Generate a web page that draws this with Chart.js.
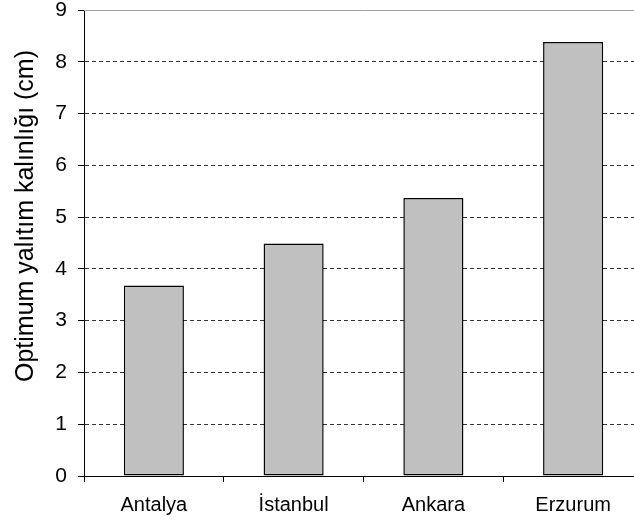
<!DOCTYPE html>
<html>
<head>
<meta charset="utf-8">
<script src="https://cdn.jsdelivr.net/npm/chart.js@4/dist/chart.umd.min.js"></script>
<style>
  html, body { margin: 0; padding: 0; background: #fff; overflow: hidden; }
  #wrap { width: 634px; height: 525px; overflow: hidden; position: relative; }
  canvas { position: absolute; left: 0; top: 0; }
</style>
</head>
<body>
<div id="wrap"><canvas id="c" width="660" height="525"></canvas></div>
<script>
// Optimum insulation thickness per city
const cities = ['Antalya', 'İstanbul', 'Ankara', 'Erzurum'];
const thickness = [3.68, 4.49, 5.37, 8.38];
const yTicks = [0, 1, 2, 3, 4, 5, 6, 7, 8, 9];
const yTitle = 'Optimum yalıtım kalınlığı (cm)';

const FONT = "'Liberation Sans', Arial, sans-serif";

// solid grey frame line along the top of the plot, plus the rotated axis title
const framePlugin = {
  id: 'frame',
  beforeDatasetsDraw(chart) {
    const { ctx, chartArea, scales } = chart;
    const y = Math.round(scales.y.getPixelForValue(yTicks[yTicks.length - 1])) + 0.5;
    ctx.save();
    ctx.strokeStyle = '#a0a0a0';
    ctx.lineWidth = 1;
    ctx.beginPath();
    ctx.moveTo(chartArea.left, y);
    ctx.lineTo(chartArea.right, y);
    ctx.stroke();
    ctx.restore();
  },
  afterDraw(chart) {
    const { ctx } = chart;
    ctx.save();
    ctx.translate(33, 216);
    ctx.rotate(-Math.PI / 2);
    ctx.font = '25px ' + FONT;
    ctx.fillStyle = '#000';
    ctx.textAlign = 'center';
    ctx.textBaseline = 'alphabetic';
    ctx.fillText(yTitle, 0, 0);
    ctx.restore();
  }
};

new Chart(document.getElementById('c'), {
  type: 'bar',
  data: {
    labels: cities,
    datasets: [{
      data: thickness,
      backgroundColor: '#c0c0c0',
      borderColor: '#000',
      borderWidth: 1.5,
      borderSkipped: false,
      categoryPercentage: 0.43,
      barPercentage: 1
    }]
  },
  options: {
    responsive: false,
    animation: false,
    devicePixelRatio: 1,
    layout: { padding: { top: 10, right: 17, bottom: 0, left: 0 } },
    plugins: { legend: { display: false }, tooltip: { enabled: false } },
    scales: {
      x: {
        offset: true,
        grid: {
          offset: true,
          drawOnChartArea: false,
          drawTicks: true,
          tickLength: 6,
          tickColor: '#000',
          tickWidth: 1
        },
        border: { display: true, color: '#000', width: 1 },
        ticks: {
          color: '#000',
          padding: 11,
          font: { family: FONT, size: 20 },
          maxRotation: 0
        },
        afterFit(s) { s.height = 49; s.paddingLeft = 0; s.paddingRight = 0; }
      },
      y: {
        min: yTicks[0],
        max: yTicks[yTicks.length - 1],
        afterBuildTicks(s) { s.ticks = yTicks.map(v => ({ value: v })); },
        grid: {
          color: ctx => (ctx.tick && (ctx.tick.value === 0 || ctx.tick.value === 9)) ? 'rgba(0,0,0,0)' : '#333',
          lineWidth: 1,
          drawTicks: true,
          tickLength: 6,
          tickColor: '#000',
          tickWidth: 1,
          tickBorderDash: []
        },
        border: { display: true, color: '#000', width: 1, dash: [4, 3] },
        ticks: {
          color: '#000',
          padding: 11,
          font: { family: FONT, size: 21 },
          callback: v => String(v)
        },
        title: { display: false, text: yTitle },
        afterFit(s) { s.width = 84; s.paddingTop = 0; s.paddingBottom = 0; }
      }
    }
  },
  plugins: [framePlugin]
});
</script>
</body>
</html>
